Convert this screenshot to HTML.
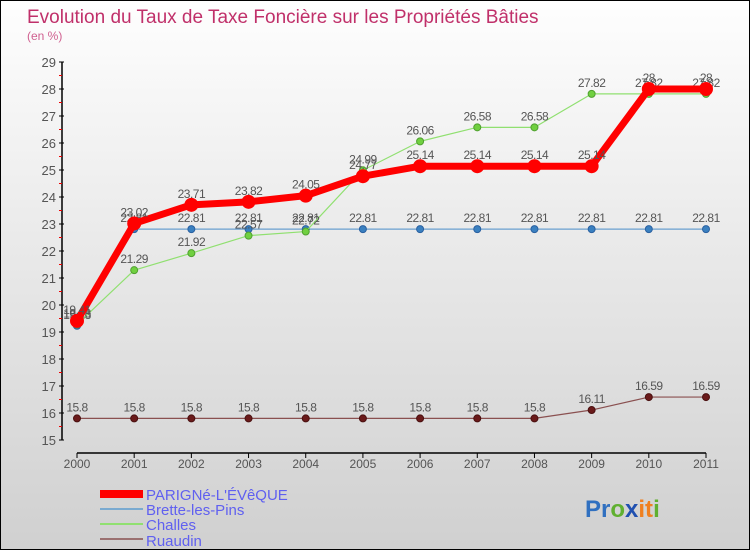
<!DOCTYPE html>
<html><head><meta charset="utf-8"><style>
body{margin:0}
#c{width:748px;height:548px;border:1px solid #000;background:linear-gradient(#fefefe,#d0d0d0);position:relative;overflow:hidden;font-family:"Liberation Sans",sans-serif}
</style></head><body>
<div id="c">
<svg id="s" width="748" height="548" style="position:absolute;left:0;top:0">
<text x="26" y="22" font-size="19" fill="#c0306a">Evolution du Taux de Taxe Foncière sur les Propriétés Bâties</text>
<text x="26" y="39" font-size="12" fill="#d06090">(en %)</text>
<g id="ax"></g><g id="series"></g>
<g>
<rect x="99" y="489" width="43" height="8" fill="#f00"/>
<line x1="99" y1="508" x2="142" y2="508" stroke="#7aaad0" stroke-width="2"/>
<line x1="99" y1="523" x2="142" y2="523" stroke="#90e070" stroke-width="2"/>
<line x1="99" y1="538" x2="142" y2="538" stroke="#9a7070" stroke-width="2"/>
<g font-size="15" fill="#6060f0">
<text x="145" y="499">PARIGNé-L'ÉVêQUE</text>
<text x="145" y="514">Brette-les-Pins</text>
<text x="145" y="529">Challes</text>
<text x="145" y="545">Ruaudin</text>
</g></g>
<text x="584" y="516" font-size="24" font-weight="bold"><tspan fill="#3070c0">Pr</tspan><tspan fill="#60b030">o</tspan><tspan fill="#2050b0">x</tspan><tspan fill="#f08020">it</tspan><tspan fill="#60b030">i</tspan></text>
</svg>
</div>
<script>
const years=[2000,2001,2002,2003,2004,2005,2006,2007,2008,2009,2010,2011];
const parigne=[19.41,23.02,23.71,23.82,24.05,24.77,25.14,25.14,25.14,25.14,28,28];
const brette=[19.23,22.81,22.81,22.81,22.81,22.81,22.81,22.81,22.81,22.81,22.81,22.81];
const challes=[19.28,21.29,21.92,22.57,22.72,24.99,26.06,26.58,26.58,27.82,27.82,27.82];
const ruaudin=[15.8,15.8,15.8,15.8,15.8,15.8,15.8,15.8,15.8,16.11,16.59,16.59];
const yTicks=[15,16,17,18,19,20,21,22,23,24,25,26,27,28,29];
const NS="http://www.w3.org/2000/svg";
const X=i=>76+i*(705-76)/11, Y=v=>439-(v-15)*27;
function mk(t,a,p){const e=document.createElementNS(NS,t);for(const k in a)e.setAttribute(k,a[k]);p.appendChild(e);return e;}
const ax=document.getElementById('ax');
const yl=mk('line',{x1:61,y1:Y(29),x2:61,y2:Y(15),stroke:'#000','stroke-width':1.5},ax);


const xl=mk('line',{x1:76,y1:452,x2:705,y2:452,stroke:'#000','stroke-width':1.5},ax);


yTicks.forEach(v=>{
 mk('line',{x1:58,y1:Y(v),x2:63,y2:Y(v),stroke:'#000'},ax);
 if(v<29)mk('line',{x1:58,y1:Y(v+0.5),x2:61,y2:Y(v+0.5),stroke:'#e00'},ax);
 const t=mk('text',{x:55,y:Y(v)+5,'text-anchor':'end','font-size':13,fill:'#555'},ax);t.textContent=v;
 
 
});
years.forEach((yr,i)=>{
 mk('line',{x1:X(i),y1:452,x2:X(i),y2:457,stroke:'#000'},ax);
 const t=mk('text',{x:X(i),y:467,'text-anchor':'middle','font-size':12,fill:'#555'},ax);t.textContent=yr;
 
 
});
const sg=document.getElementById('series');
function draw(vals,name,col,w,dot,dotStroke,r){
 const g=mk('g',{},sg);
 
 
 const p=mk('polyline',{points:vals.map((v,i)=>X(i)+','+Y(v)).join(' '),fill:'none',stroke:col,'stroke-width':w,'stroke-linejoin':'round'},g);
 
 
 vals.forEach((v,i)=>{
  const c=mk('circle',{cx:X(i),cy:Y(v),r:r,fill:dot,stroke:dotStroke,'stroke-width':1},g);
  
  
  const t=mk('text',{x:X(i),y:Y(v)-7,'text-anchor':'middle','font-size':12,fill:'#555','letter-spacing':'-0.5'},g);t.textContent=v;
  
  
 });
}
draw(ruaudin,'ruaudin','#8a5050',1.2,'#6a1a1a','#4a1010',3.5);
draw(brette,'brette','#6aa0d0',1.2,'#3a80c0','#2a60a0',3.5);
draw(challes,'challes','#90e070',1.2,'#70d040','#50a030',3.5);
draw(parigne,'parigne','#f00',7,'#f00','#f00',6.5);
</script>
</body></html>
